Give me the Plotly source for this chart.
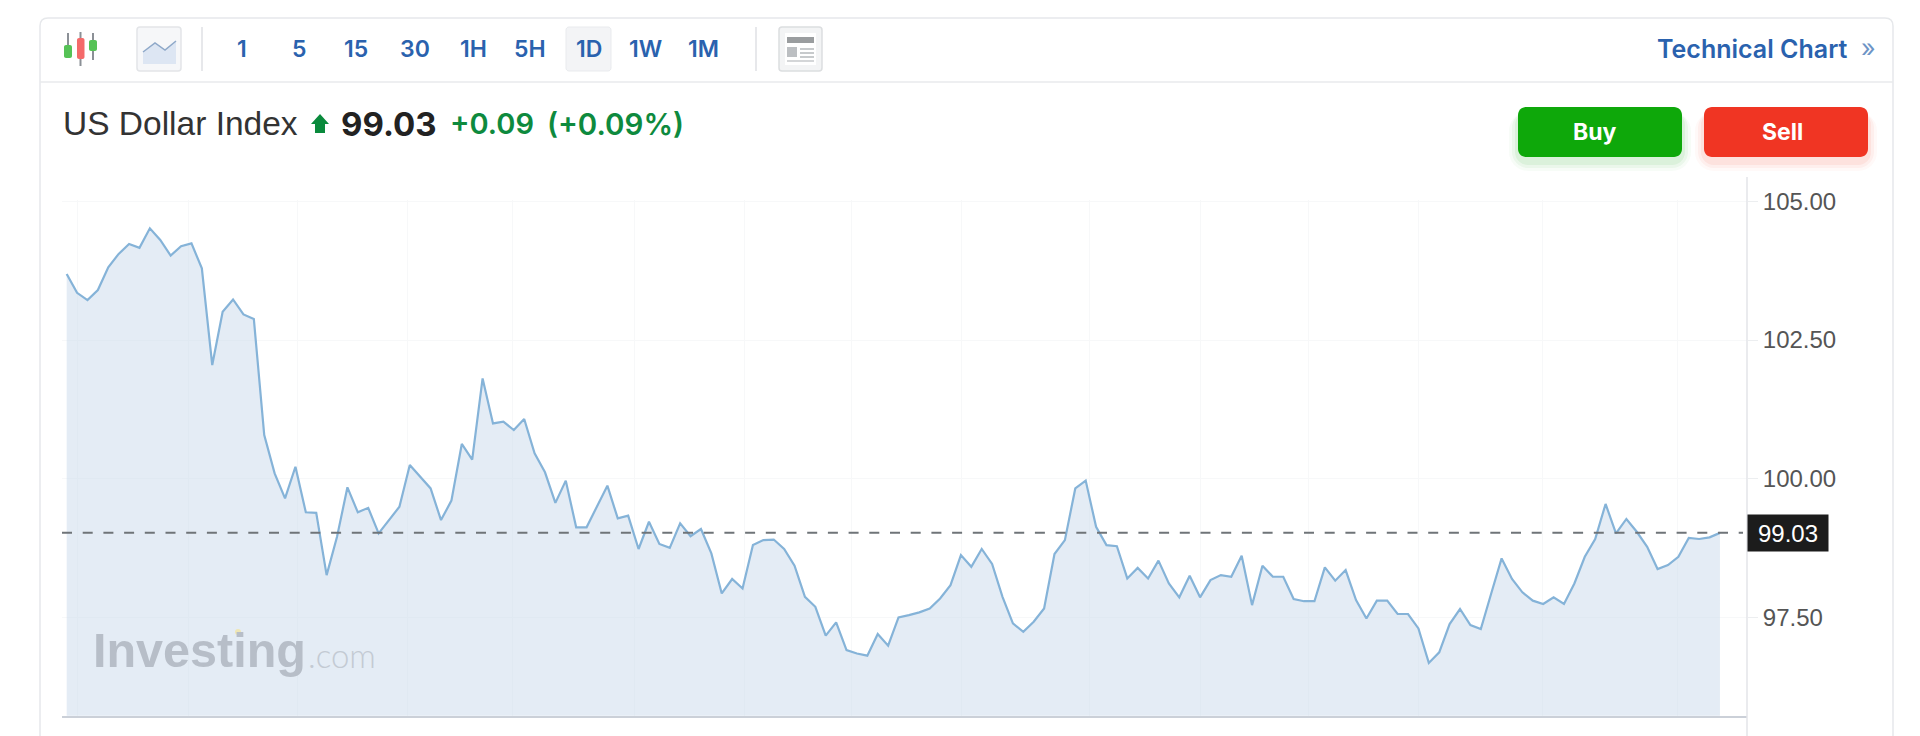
import plotly.graph_objects as go

W, H = 1920, 736

close_values = [
    103.69, 103.35, 103.22, 103.40, 103.81, 104.05, 104.23, 104.16, 104.51, 104.30,
    104.02, 104.19, 104.24, 103.79, 102.05, 103.01, 103.23, 102.96, 102.88, 100.79,
    100.10, 99.65, 100.22, 99.40, 99.39, 98.27, 98.96, 99.85, 99.40, 99.48,
    99.02, 99.26, 99.50, 100.25, 100.04, 99.83, 99.26, 99.61, 100.63, 100.35,
    101.81, 101.00, 101.03, 100.88, 101.08, 100.46, 100.12, 99.57, 99.97, 99.13,
    99.13, 99.50, 99.88, 99.29, 99.34, 98.74, 99.23, 98.83, 98.76, 99.20,
    98.97, 99.10, 98.66, 97.94, 98.20, 98.03, 98.81, 98.90, 98.91, 98.74,
    98.44, 97.88, 97.70, 97.18, 97.42, 96.92, 96.86, 96.82, 97.21, 97.00,
    97.51, 97.55, 97.60, 97.67, 97.85, 98.09, 98.63, 98.42, 98.74, 98.47,
    97.88, 97.40, 97.25, 97.43, 97.67, 98.65, 98.90, 99.83, 99.97, 99.14,
    98.81, 98.79, 98.21, 98.40, 98.21, 98.53, 98.12, 97.87, 98.26, 97.87,
    98.18, 98.27, 98.24, 98.62, 97.73, 98.44, 98.24, 98.24, 97.84, 97.80,
    97.80, 98.41, 98.17, 98.36, 97.82, 97.49, 97.81, 97.81, 97.57, 97.57,
    97.31, 96.69, 96.88, 97.39, 97.66, 97.37, 97.30, 97.94, 98.57, 98.20,
    97.96, 97.81, 97.75, 97.87, 97.75, 98.12, 98.60, 98.92, 99.55, 99.02,
    99.28, 99.05, 98.78, 98.38, 98.45, 98.60, 98.94, 98.92, 98.95, 99.03,
]
bar_index = list(range(len(close_values)))
y_ticks = [97.5, 100.0, 102.5, 105.0]
x_grid_index = [1, 11.7, 22.2, 32.8, 42.9, 54.6, 65.2, 75.5, 86.1, 98.4, 109, 119.4, 130, 141.9, 154.9]
current_price = 99.03
title_name = "US Dollar Index"
change_abs = "+0.09"
change_pct = "(+0.09%)"
timeframes = ["1", "5", "15", "30", "1H", "5H", "1D", "1W", "1M"]
timeframe_px = [242, 299, 356, 415, 473, 530, 589, 645, 703]

# pixel helpers for page chrome only
px = lambda x: x / W
py = lambda y: 1 - y / H


def path(points, close=True):
    s = "M " + " L ".join(f"{px(x):.5f},{py(y):.5f}" for x, y in points)
    return s + (" Z" if close else "")


def rrect(x0, y0, x1, y1, r, fill, line=None, lw=1, opacity=1):
    k = r * 0.45
    def p(x, y):
        return f"{px(x):.5f},{py(y):.5f}"
    d = (f"M {p(x0 + r, y0)} L {p(x1 - r, y0)} C {p(x1 - k, y0)} {p(x1, y0 + k)} {p(x1, y0 + r)} "
         f"L {p(x1, y1 - r)} C {p(x1, y1 - k)} {p(x1 - k, y1)} {p(x1 - r, y1)} "
         f"L {p(x0 + r, y1)} C {p(x0 + k, y1)} {p(x0, y1 - k)} {p(x0, y1 - r)} "
         f"L {p(x0, y0 + r)} C {p(x0, y0 + k)} {p(x0 + k, y0)} {p(x0 + r, y0)} Z")
    return dict(type="path", path=d, xref="paper", yref="paper", fillcolor=fill, opacity=opacity,
                line=dict(color=line or "rgba(0,0,0,0)", width=lw if line else 0), layer="above")


def seg(x0, y0, x1, y1, color, w=1):
    return dict(type="line", xref="paper", yref="paper", x0=px(x0), x1=px(x1), y0=py(y0), y1=py(y1),
                line=dict(color=color, width=w), layer="above")


def box(x0, y0, x1, y1, fill):
    return dict(type="rect", xref="paper", yref="paper", x0=px(x0), x1=px(x1), y0=py(y0), y1=py(y1),
                fillcolor=fill, line=dict(width=0), layer="above")


def label(x, y, text, size, color, anchor="left", family="Inter", weight=400):
    return dict(xref="paper", yref="paper", x=px(x), y=py(y), text=text, showarrow=False, xanchor=anchor,
                yanchor="middle", borderpad=0, font=dict(family=family, size=size, color=color, weight=weight))


shapes = []
annotations = []

# panel frame
k = 8
shapes.append(dict(type="path", xref="paper", yref="paper", layer="above", line=dict(color="#e6e8eb", width=1.5),
                   path=f"M {px(40)},0 L {px(40)},{py(18 + k)} Q {px(40)},{py(18)} {px(40 + k)},{py(18)} "
                        f"L {px(1893 - k)},{py(18)} Q {px(1893)},{py(18)} {px(1893)},{py(18 + k)} L {px(1893)},0"))
shapes.append(seg(40, 82, 1893, 82, "#e8eaec", 1.5))

# candle icon
for wx, wy0, wy1 in [(68, 33, 58), (80.5, 32, 66), (93, 33, 60)]:
    shapes.append(seg(wx, wy0, wx, wy1, "#8b9096", 2))
shapes.append(rrect(64, 45, 72, 58, 2, "#56c256"))
shapes.append(rrect(77, 38, 84.5, 59, 2, "#f46a6a"))
shapes.append(rrect(89, 40, 97, 51, 2, "#56c256"))

# area icon
shapes.append(rrect(137, 27, 181, 71, 3, "#f6f7f9", "#e3e5e8", 1.5))
shapes.append(dict(type="path", xref="paper", yref="paper", layer="above", line=dict(width=0), fillcolor="#dde6f3",
                   path=path([(143, 52), (155, 43), (165, 50), (176, 41), (176, 64), (143, 64)])))
shapes.append(dict(type="path", xref="paper", yref="paper", layer="above", line=dict(color="#8fa9c9", width=1.5),
                   path=path([(143, 52), (155, 43), (165, 50), (176, 41)], close=False)))

# separators, active timeframe
shapes.append(seg(202, 27, 202, 71, "#dfe1e4", 1.5))
shapes.append(seg(756, 27, 756, 71, "#dfe1e4", 1.5))
shapes.append(rrect(566, 27, 611, 71, 3, "#f3f4f6", "#e9ebee", 1))

# news icon
shapes.append(rrect(779, 27, 822, 71, 3, "#f3f4f5", "#dcdee0", 1.5))
shapes.append(box(785, 33, 816, 65, "#ffffff"))
shapes.append(box(787, 37, 814, 43, "#9a9d9f"))
shapes.append(box(787, 47, 797, 57, "#bcbfc2"))
for ly in (49, 53, 57):
    shapes.append(seg(800, ly, 814, ly, "#b5b8bb", 1.5))
shapes.append(seg(787, 61, 814, 61, "#c6c8cb", 1.5))

# price arrow
shapes.append(dict(type="path", xref="paper", yref="paper", layer="above", fillcolor="#0a8a3c", line=dict(width=0),
                   path=path([(320, 114), (329, 124), (325, 124), (325, 133), (315, 133), (315, 124), (311, 124)])))

# button shadows (below the buttons only) and buttons
for grow, op in [(9, 0.03), (6, 0.05), (3, 0.07)]:
    shapes.append(rrect(1518 - grow, 112, 1682 + grow, 157 + grow + 5, 10 + grow, "#0fa50f", opacity=op))
    shapes.append(rrect(1704 - grow, 112, 1868 + grow, 157 + grow + 5, 10 + grow, "#f0321e", opacity=op))
shapes.append(rrect(1518, 107, 1682, 157, 8, "#0ea80a"))
shapes.append(rrect(1704, 107, 1868, 157, 8, "#f03523"))

# axis extension, current price line
shapes.append(seg(1747, 177, 1747, 736, "#e3e5e8", 1.5))
shapes.append(dict(type="line", xref="paper", yref="y", x0=px(62), x1=px(1743), y0=current_price, y1=current_price,
                   line=dict(color="#6f7478", width=2, dash="10px,10.7px"), layer="above"))

# watermark dot
shapes.append(dict(type="circle", xref="paper", yref="paper", x0=px(235), x1=px(241), y0=py(629), y1=py(635),
                   fillcolor="#efe6b4", line=dict(width=0), layer="above"))

# toolbar text
for tf, tx in zip(timeframes, timeframe_px):
    annotations.append(label(tx, 49, tf, 23, "#2a62ae", "center", weight=600))
annotations.append(label(1849, 49, "Technical Chart", 25, "#2a62ae", "right", weight=600))
annotations.append(label(1860, 48, "»", 25, "#6d94c6", "left"))

# header
annotations.append(label(62, 124, title_name, 33.5, "#333333", "left", "Liberation Sans"))
annotations.append(label(340, 124, f"{current_price:.2f}", 33, "#222222", "left", weight=700))
annotations.append(label(449, 124, change_abs, 29, "#0e8a3e", "left", weight=600))
annotations.append(label(546, 124, change_pct, 29.5, "#0e8a3e", "left", weight=600))
annotations.append(label(1595, 132, "Buy", 23, "#ffffff", "center", weight=700))
annotations.append(label(1782, 132, "Sell", 23, "#ffffff", "center", weight=700))

# watermark
annotations.append(label(92, 650, "Investing", 48.5, "#b7bec8", "left", "Liberation Sans", 700))
annotations.append(label(307, 655, ".com", 33, "#c3cad3", "left", "Lato", 300))

# price tag
annotations.append(dict(xref="paper", yref="y", x=px(1747), y=current_price, text=f"{current_price:.2f}",
                        showarrow=False, xanchor="left", yanchor="middle", width=80, height=36, align="center",
                        bgcolor="#1c1c1c", borderpad=0,
                        font=dict(family="Liberation Sans", size=24, color="#ffffff")))

fig = go.Figure(go.Scatter(
    x=bar_index, y=close_values, mode="lines", fill="tozeroy",
    fillcolor="rgba(205,221,236,0.55)", line=dict(color="#85b3d8", width=2.2), hoverinfo="skip",
))

fig.update_layout(
    width=W, height=H, margin=dict(l=0, r=0, t=0, b=0, autoexpand=False),
    paper_bgcolor="#ffffff", plot_bgcolor="#ffffff", showlegend=False,
    shapes=shapes, annotations=annotations,
    xaxis=dict(domain=[px(62), px(1747)], range=[-0.45, 161.6], tickvals=x_grid_index, showticklabels=False,
               ticks="", showgrid=True, gridcolor="#f7f8f9", gridwidth=1, zeroline=False,
               showline=True, linecolor="#cbd0d8", linewidth=2),
    yaxis=dict(domain=[1 - 715.7 / H, 1 - 200 / H], range=[95.74, 105.02], side="right", tickvals=y_ticks,
               tickformat=".2f", ticks="outside", ticklen=10, tickcolor="#eceef0", tickwidth=1,
               tickfont=dict(family="Liberation Sans", size=24, color="#555555"),
               showgrid=True, gridcolor="#f7f8f9", gridwidth=1, zeroline=False, showline=False),
)

fig.write_html("out.html", config=dict(displayModeBar=False),
               post_script="document.body.style.margin='0';document.body.style.overflow='hidden';")
